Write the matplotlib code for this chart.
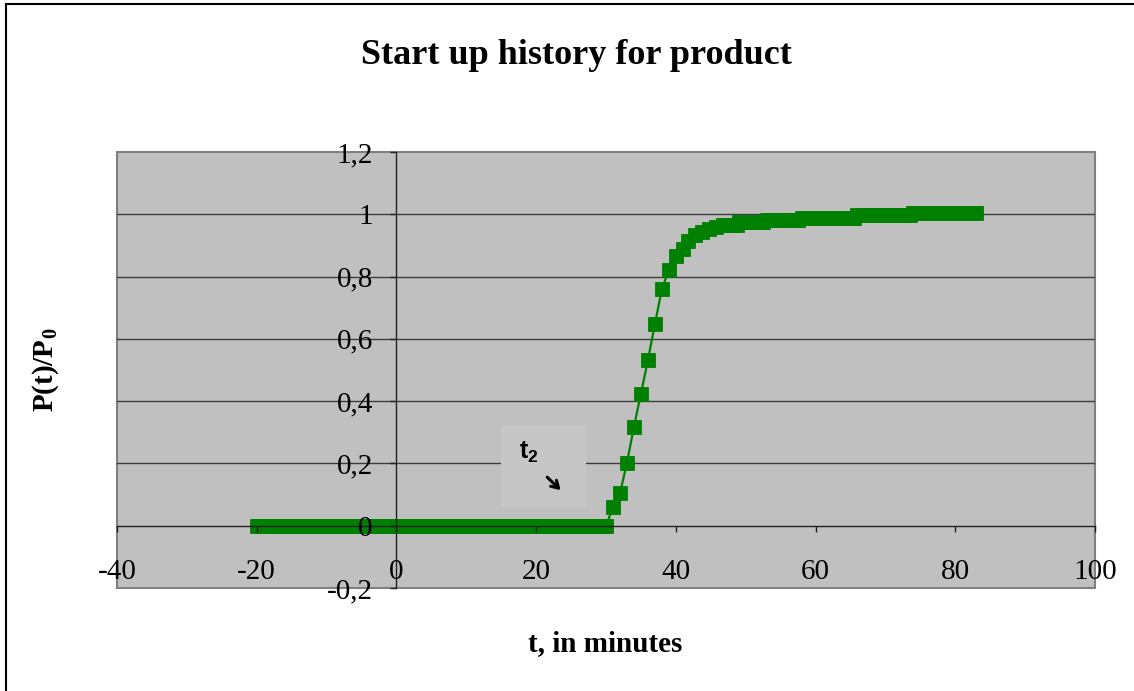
import numpy as np
import matplotlib
matplotlib.use("Agg")
import matplotlib.pyplot as plt
from matplotlib.patches import Rectangle
from matplotlib.lines import Line2D

plt.rcParams["font.family"] = ["Liberation Serif", "DejaVu Serif"]
plt.rcParams["mathtext.fontset"] = "custom"
plt.rcParams["mathtext.rm"] = "Liberation Serif"
plt.rcParams["mathtext.bf"] = "Liberation Serif:bold"
plt.rcParams["mathtext.sf"] = "Liberation Sans:bold"

# ---- data -------------------------------------------------------------
# baseline before start-up: product fraction is zero
baseline_t = np.arange(-20.0, 30.01, 0.5)
baseline_p = np.zeros_like(baseline_t)

# rise of the product signal
rise_t = [31, 32, 33, 34, 35, 36, 37, 38, 39, 40, 41, 41.7, 42.7, 43.7, 44.7, 45.7]
rise_p = [0.059, 0.104, 0.202, 0.318, 0.424, 0.532, 0.647, 0.760, 0.821, 0.867,
          0.890, 0.913, 0.935, 0.944, 0.952, 0.959]

# plateau: recorded levels and the time each level begins
plateau_start = [46.7, 49.0, 53.0, 58.0, 66.0, 74.0]
plateau_level = [0.967, 0.974, 0.982, 0.989, 0.997, 1.004]
plateau_end = 83.0

x_ticks = [-40, -20, 0, 20, 40, 60, 80, 100]
y_ticks = [-0.2, 0.0, 0.2, 0.4, 0.6, 0.8, 1.0, 1.2]
y_tick_labels = ["-0,2", "0", "0,2", "0,4", "0,6", "0,8", "1", "1,2"]

# assemble plateau samples (every half minute on each recorded level)
plat_t, plat_p = [], []
bounds = plateau_start[1:] + [plateau_end + 0.01]
for s, e, lev in zip(plateau_start, bounds, plateau_level):
    tt = np.arange(s, e, 0.5)
    plat_t.extend(tt)
    plat_p.extend([lev] * len(tt))

t = np.concatenate([baseline_t, rise_t, plat_t])
p = np.concatenate([baseline_p, rise_p, plat_p])

# ---- figure -----------------------------------------------------------
W, H = 1134, 691
fig = plt.figure(figsize=(W / 100, H / 100), dpi=100)
fig.patch.set_facecolor("white")

ax = fig.add_axes([117 / W, 1 - 588 / H, (1095 - 117) / W, (588 - 152) / H])
ax.set_facecolor("#C0C0C0")
ax.set_xlim(-40, 100)
ax.set_ylim(-0.2, 1.2)

# horizontal gridlines
for yv in y_ticks[2:-1]:
    ax.axhline(yv, color="#3c3c3c", lw=1.0, zorder=1)

# axes through the origin
for side in ("top", "right"):
    ax.spines[side].set_visible(False)
ax.spines["left"].set_position(("data", 0))
ax.spines["bottom"].set_position(("data", 0))
for side in ("left", "bottom"):
    ax.spines[side].set_color("#202020")
    ax.spines[side].set_linewidth(1.0)
ax.set_axisbelow(False)

# plot-area frame
ax.add_patch(Rectangle((0, 0), 1, 1, transform=ax.transAxes, fill=False,
                       edgecolor="#808080", lw=1.5, zorder=0.5, clip_on=False))

ax.set_xticks(x_ticks)
ax.set_xticklabels([str(v) for v in x_ticks])
ax.set_yticks(y_ticks)
ax.set_yticklabels(y_tick_labels)
ax.tick_params(axis="x", direction="out", length=4, width=1, color="#202020",
               labelsize=21, pad=20)
ax.tick_params(axis="y", direction="out", length=4, width=1, color="#202020",
               labelsize=21, pad=13)

# t2 marker box
ax.add_patch(Rectangle((14.9, 0.06), 12.3, 0.265, facecolor="#C6C6C6",
                       edgecolor="none", zorder=1.2))
ax.text(19.0, 0.235, r"$\mathsf{t_2}$", fontsize=18, ha="center", va="center",
        zorder=3)
ax.annotate("", xy=(23.8, 0.108), xytext=(21.3, 0.162),
            arrowprops=dict(arrowstyle="->,head_length=0.5,head_width=0.3",
                            color="black", lw=2.2), zorder=3)

# data series
ax.plot(t, p, color="#008000", lw=1.6, marker="s", markersize=9.5,
        markeredgewidth=0.6, markeredgecolor="#008000", zorder=2, clip_on=False)

# titles
fig.text(576 / W, 1 - 56 / H, "Start up history for product", ha="center",
         va="center", fontsize=26, fontweight="bold")
fig.text(605 / W, 1 - 644 / H, "t, in minutes", ha="center", va="center",
         fontsize=21, fontweight="bold")
fig.text(46 / W, 1 - 370 / H, r"$\mathbf{P(t)/P}_{\mathbf{0}}$", ha="center",
         va="center", fontsize=21, rotation=90)

# outer chart border
fig.add_artist(Line2D([6 / W, 6 / W], [0, 1 - 4 / H], transform=fig.transFigure,
                      color="black", lw=1.5))
fig.add_artist(Line2D([6 / W, 1], [1 - 4 / H, 1 - 4 / H], transform=fig.transFigure,
                      color="black", lw=1.5))

fig.savefig("out.png", dpi=100)
